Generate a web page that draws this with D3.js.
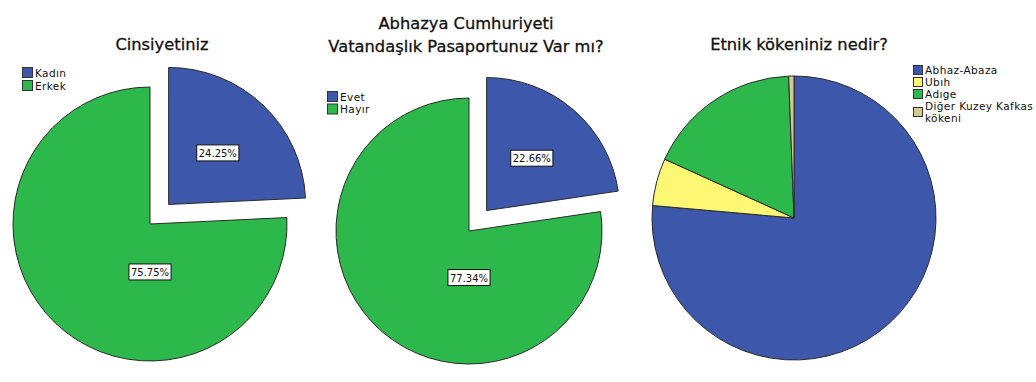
<!DOCTYPE html>
<html>
<head>
<meta charset="utf-8">
<script src="https://cdn.jsdelivr.net/npm/d3@7"></script>
<style>
  body { margin: 0; background: #fff; }
  text { font-family: "DejaVu Sans", Verdana, sans-serif; fill: #111; }
  .title { font-size: 16.3px; stroke: #111; stroke-width: 0.3px; }
  .legend text { font-size: 10.5px; letter-spacing: 0.4px; }
  .pct { font-size: 10px; }
</style>
</head>
<body>
<script>
//data
var genderCats = ["Kadın", "Erkek"];
var genderVals = [24.25, 75.75];

var passportCats = ["Evet", "Hayır"];
var passportVals = [22.66, 77.34];

var ethnicCats = ["Abhaz-Abaza", "Ubıh", "Adıge", "Diğer Kuzey Kafkas kökeni"];
var ethnicVals = [76.4, 5.4, 17.6, 0.6];

var sliceColors = ["#3d58aa", "#fcf874", "#2db84b", "#d2cb96"];

//svg
var w = 1036, h = 382;
var svg = d3.select("body").append("svg")
    .attr("width", w)
    .attr("height", h);

//draw one pie chart
function drawPie(opt){
    var g = svg.append("g");
    var colors = opt.colors;
    var pie = d3.pie().sort(null).value(function(d){ return d.v; });
    var rows = opt.cats.map(function(c, i){ return {c: c, v: opt.vals[i], i: i}; });
    var arcs = pie(rows);
    var arc = d3.arc().innerRadius(0).outerRadius(opt.r);

    //titles
    opt.title.forEach(function(t, i){
        g.append("text")
            .attr("class", "title")
            .attr("text-anchor", "middle")
            .attr("x", opt.titleX)
            .attr("y", opt.titleY + i * 23)
            .text(t);
    });

    //slices, small first one pulled out
    var slices = g.selectAll(".slice")
        .data(arcs)
        .enter()
        .append("g")
        .attr("class", "slice")
        .attr("transform", function(d){
            var off = (opt.explode && d.index === 0) ? opt.explode : 0;
            var a = (d.startAngle + d.endAngle) / 2;
            return "translate(" + (opt.cx + off * Math.sin(a)) + "," + (opt.cy - off * Math.cos(a)) + ")";
        });

    slices.append("path")
        .attr("d", arc)
        .style("fill", function(d){ return colors[d.index]; })
        .style("stroke", "#2a2a2a")
        .style("stroke-width", 1);

    //percent labels
    if (opt.labels) {
        slices.each(function(d){
            var span = d.endAngle - d.startAngle;
            var a, k;
            if (span > Math.PI) { a = Math.PI; k = 0.35; }
            else { a = (d.startAngle + d.endAngle) / 2; k = 0.52; }
            var x = k * opt.r * Math.sin(a), y = -k * opt.r * Math.cos(a);
            var s = d3.select(this);
            var t = s.append("text")
                .attr("class", "pct")
                .attr("text-anchor", "middle")
                .attr("x", x)
                .attr("y", y + 4)
                .text(d3.format(".2f")(d.data.v) + "%");
            var bb = t.node().getBBox();
            s.insert("rect", "text")
                .attr("x", bb.x - 2)
                .attr("y", y - 8)
                .attr("width", bb.width + 4)
                .attr("height", 16)
                .style("fill", "#fff")
                .style("stroke", "#111")
                .style("stroke-width", 1);
        });
    }

    //legend
    var lg = g.append("g").attr("class", "legend")
        .attr("transform", "translate(" + opt.legX + "," + opt.legY + ")");
    var yy = 0;
    rows.forEach(function(r){
        var lines = [r.c];
        if (r.c.length > 18) {
            var cut = r.c.lastIndexOf(" ", 18);
            lines = [r.c.slice(0, cut), r.c.slice(cut + 1)];
        }
        var boxY = yy + (lines.length - 1) * opt.legStep / 2;
        lg.append("rect")
            .attr("x", 0.5)
            .attr("y", boxY + 0.5)
            .attr("width", opt.box)
            .attr("height", opt.box)
            .style("fill", colors[r.i])
            .style("stroke", "#333")
            .style("stroke-width", 1);
        lines.forEach(function(l, j){
            lg.append("text")
                .attr("x", opt.box + 3)
                .attr("y", yy + j * opt.legStep + opt.box - 0.5)
                .text(l);
        });
        yy += lines.length * opt.legStep;
    });
}

drawPie({
    cats: genderCats, vals: genderVals,
    colors: [sliceColors[0], sliceColors[2]],
    title: ["Cinsiyetiniz"], titleX: 162, titleY: 50,
    cx: 150, cy: 224, r: 137, explode: 27, labels: true,
    legX: 22, legY: 67, box: 10, legStep: 13
});

drawPie({
    cats: passportCats, vals: passportVals,
    colors: [sliceColors[0], sliceColors[2]],
    title: ["Abhazya Cumhuriyeti", "Vatandaşlık Pasaportunuz Var mı?"], titleX: 466, titleY: 29,
    cx: 469, cy: 231, r: 133, explode: 27, labels: true,
    legX: 327, legY: 91, box: 10, legStep: 12.5
});

drawPie({
    cats: ethnicCats, vals: ethnicVals,
    colors: sliceColors,
    title: ["Etnik kökeniniz nedir?"], titleX: 799, titleY: 50,
    cx: 794, cy: 218, r: 142, explode: 0, labels: false,
    legX: 913, legY: 65, box: 9, legStep: 12
});
</script>
</body>
</html>
